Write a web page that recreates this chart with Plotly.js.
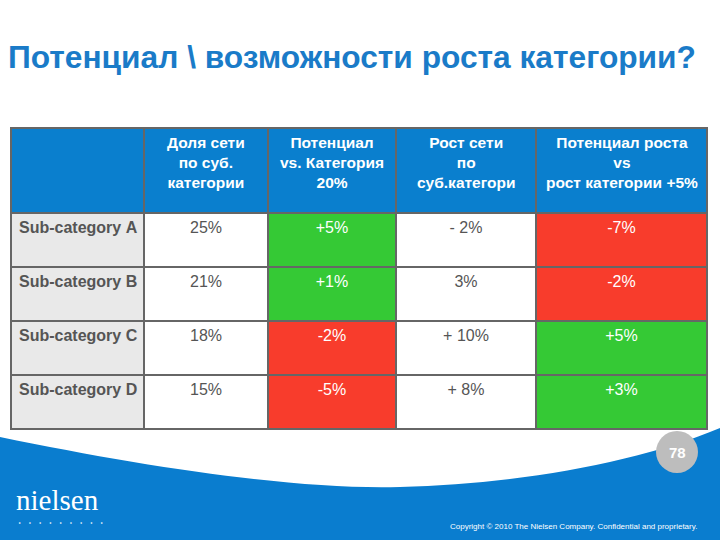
<!DOCTYPE html>
<html><head><meta charset="utf-8">
<script src="https://cdn.plot.ly/plotly-3.0.1.min.js"></script>
<style>body{margin:0;padding:0;background:#fff}#chart{width:720px;height:540px}</style>
</head><body><div id="chart"></div>
<script>
const titleText = "Потенциал \\ возможности роста категории?";
const headers = ["", "Доля сети<br>по суб.<br>категории", "Потенциал<br>vs. Категория<br>20%", "Рост сети<br>по<br>суб.категори", "Потенциал роста<br>vs<br>рост категории +5%"];
const categories = ["Sub-category A", "Sub-category B", "Sub-category C", "Sub-category D"];
const shareNet = ["25%", "21%", "18%", "15%"];
const potentialVsCat = ["+5%", "+1%", "-2%", "-5%"];
const growthNet = ["- 2%", "3%", "+ 10%", "+ 8%"];
const potentialGrowth = ["-7%", "-2%", "+5%", "+3%"];
const pageNumber = "78";
const copyrightText = "Copyright © 2010 The Nielsen Company. Confidential and proprietary.";

const GREEN = "#35c935", RED = "#f83c2c", BLUE = "#0a7fce";
const colorFor = v => (v.trim().startsWith("-") ? RED : GREEN);
const nowrap = s => s.replace(/ /g, "\u00a0");

const W = 720, H = 540;
const px = x => x / W, py = y => 1 - y / H;
const wave = "M " + px(0) + "," + py(437) +
  " C " + px(150) + "," + py(468) + " " + px(300) + "," + py(490) + " " + px(400) + "," + py(487) +
  " C " + px(520) + "," + py(484) + " " + px(640) + "," + py(462) + " " + px(720) + "," + py(428) +
  " L " + px(720) + "," + py(540) + " L " + px(0) + "," + py(540) + " Z";

const colWidths = [133, 124, 128, 140, 171];
const tableLeft = 11, tableRight = 707;
const colCenters = [];
{ let acc = tableLeft; colWidths.forEach(w => { colCenters.push(acc + w / 2); acc += w; }); }

const FONT = "Liberation Sans, Arial, sans-serif";

const trace = {
  type: "table",
  domain: { x: [px(tableLeft), px(tableRight)], y: [py(432), py(128)] },
  columnwidth: colWidths,
  header: {
    values: headers.map(() => ""),
    fill: { color: BLUE },
    line: { color: "#666", width: 1.5 },
    align: "center",
    height: 85,
    font: { family: FONT, size: 16, color: "#fff" }
  },
  cells: {
    values: [categories.map(nowrap), shareNet.map(nowrap), potentialVsCat, growthNet.map(nowrap), potentialGrowth],
    fill: { color: [
      categories.map(() => "#e9e9e9"),
      shareNet.map(() => "#fff"),
      potentialVsCat.map(colorFor),
      growthNet.map(() => "#fff"),
      potentialGrowth.map(colorFor)
    ] },
    line: { color: "#666", width: 1.5 },
    align: ["left", "center", "center", "center", "center"],
    height: 54,
    font: {
      family: FONT, size: 16,
      color: [
        categories.map(() => "#555"),
        shareNet.map(() => "#555"),
        potentialVsCat.map(() => "#fff"),
        growthNet.map(() => "#555"),
        potentialGrowth.map(() => "#fff")
      ],
      weight: ["bold", "normal", "normal", "normal", "normal"]
    }
  }
};

const headerAnnotations = headers.map((h, i) => ({
  text: h ? "<b>" + h + "</b>" : "", xref: "paper", yref: "paper", x: px(colCenters[i]), y: py(162),
  xanchor: "center", yanchor: "middle", align: "center", showarrow: false,
  font: { family: FONT, size: 15.5, color: "#fff" }
})).filter(a => a.text);

const dots = Array(9).fill("•").join("\u00a0\u00a0\u00a0\u00a0");

const layout = {
  width: W, height: H,
  margin: { l: 0, r: 0, t: 0, b: 0 },
  paper_bgcolor: "#fff",
  showlegend: false,
  shapes: [
    { type: "path", xref: "paper", yref: "paper", path: wave, fillcolor: "#0a7dcf", line: { width: 0 }, layer: "below" },
    { type: "circle", xref: "paper", yref: "paper", x0: px(656), x1: px(698), y0: py(473), y1: py(431), fillcolor: "#bdbdbd", line: { width: 0 } }
  ],
  annotations: headerAnnotations.concat([
    { text: "<b>" + titleText + "</b>", xref: "paper", yref: "paper", x: px(6), y: py(57), xanchor: "left", yanchor: "middle", showarrow: false,
      font: { family: FONT, size: 31.7, color: "#1a7bc8" } },
    { text: "<b>" + pageNumber + "</b>", xref: "paper", yref: "paper", x: px(677), y: py(452), xanchor: "center", yanchor: "middle", showarrow: false,
      font: { family: FONT, size: 15, color: "#fff" } },
    { text: "nielsen", xref: "paper", yref: "paper", x: px(14), y: py(500), xanchor: "left", yanchor: "middle", showarrow: false,
      font: { family: "Liberation Serif, serif", size: 29, color: "#fff" } },
    { text: dots, xref: "paper", yref: "paper", x: px(16), y: py(523), xanchor: "left", yanchor: "middle", showarrow: false,
      font: { family: "DejaVu Sans, sans-serif", size: 5.5, color: "#fff" } },
    { text: copyrightText, xref: "paper", yref: "paper", x: px(699), y: py(526), xanchor: "right", yanchor: "middle", showarrow: false,
      font: { family: FONT, size: 8, color: "#fff" } }
  ])
};

Plotly.newPlot("chart", [trace], layout, { displayModeBar: false, staticPlot: true });
</script>
</body></html>
